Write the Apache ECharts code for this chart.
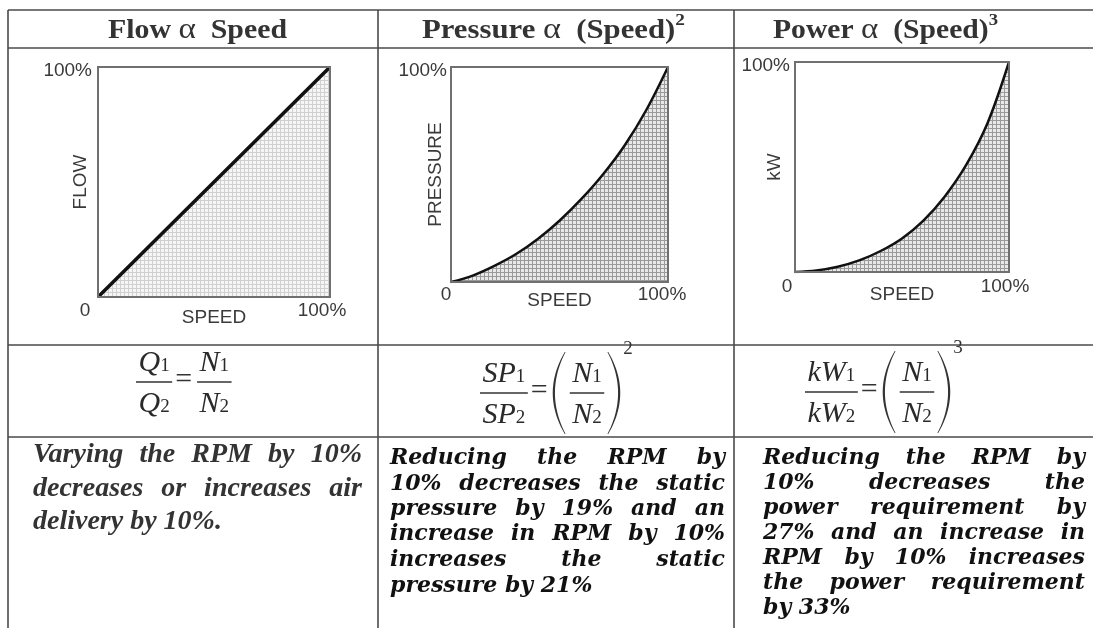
<!DOCTYPE html>
<html><head><meta charset="utf-8">
<script src="https://cdn.jsdelivr.net/npm/echarts@6/dist/echarts.min.js"></script>
<style>html,body{margin:0;padding:0;background:#fff}#c{width:1093px;height:628px}</style>
</head><body><div id="c"></div>
<script>
// ---------------- data ----------------
const speed    = [0, 10, 20, 30, 40, 50, 60, 70, 80, 90, 100];
const flow     = [0, 10, 20, 30, 40, 50, 60, 70, 80, 90, 100];
const pressure = [0, 3, 7.5, 13, 20, 28.5, 38.5, 50, 63.5, 80, 100];
const power    = [0, 0.7, 2.5, 5.5, 10, 16, 24.5, 36, 51, 71, 100];
const yNames = ['FLOW', 'PRESSURE', 'kW'];
const xName = 'SPEED';
const tickMin = '0', tickMax = '100%';
const col1Text = ['Varying the RPM by 10%', 'decreases or increases air', 'delivery by 10%.'];
const col2Text = ['Reducing the RPM by', '10% decreases the static', 'pressure by 19% and an', 'increase in RPM by 10%', 'increases the static', 'pressure by 21%'];
const col3Text = ['Reducing the RPM by', '10% decreases the', 'power requirement by', '27% and an increase in', 'RPM by 10% increases', 'the power requirement', 'by 33%'];

// ---------------- helpers ----------------
const mctx = document.createElement('canvas').getContext('2d');
function tw(s, font) { mctx.font = font; return mctx.measureText(s).width; }
function fsize(font) { return parseFloat(font.match(/(\d+(\.\d+)?)px/)[1]); }
function T(x, baseline, s, font, fill, align) {
  const sz = fsize(font);
  return { type: 'text', x: x, y: baseline - 0.3 * sz, silent: true,
    style: { text: s, font: font, fill: fill || '#111', align: align || 'left', verticalAlign: 'middle' } };
}
function runs(x, baseline, parts, fill) {
  let cx = x; const els = [];
  parts.forEach(p => { els.push(T(cx, baseline + (p[2] || 0), p[0], p[1], fill)); cx += tw(p[0], p[1]); });
  return { els, w: cx - x };
}
function runsWidth(parts) { return parts.reduce((a, p) => a + tw(p[0], p[1]), 0); }
function pat(bg, line, size) {
  const c = document.createElement('canvas'); c.width = c.height = size;
  const g = c.getContext('2d'); g.fillStyle = bg; g.fillRect(0, 0, size, size);
  g.fillStyle = line; g.fillRect(0, 0, 1, size); g.fillRect(0, 0, size, 1);
  return { image: c, repeat: 'repeat' };
}

const G = [];
// ---------------- table lines ----------------
const LC = '#4a4a4a';
function L(x1, y1, x2, y2, w) { G.push({ type: 'line', silent: true, shape: { x1, y1, x2, y2 }, style: { stroke: LC, lineWidth: w || 1.6 } }); }
[10, 48, 345, 437].forEach(y => L(8, y, 1093, y));
[8, 378, 734].forEach(x => L(x, 10, x, 628));

// ---------------- headers ----------------
const HB = 'bold 27px "Liberation Serif"', HA = '30px "Liberation Serif"', HS = 'bold 17px "Liberation Serif"';
const headers = [
  { parts: [['Flow ', HB], ['\u03b1', HA], ['  Speed', HB]], cx: 197.5, w: 179 },
  { parts: [['Pressure ', HB], ['\u03b1', HA], ['  (Speed)', HB], ['2', HS, -14]], cx: 553.5, w: 263 },
  { parts: [['Power ', HB], ['\u03b1', HA], ['  (Speed)', HB], ['3', HS, -14]], cx: 885.5, w: 225 }
];
headers.forEach(h => {
  const nw = runsWidth(h.parts);
  const r = runs(-nw / 2, 39.5, h.parts, '#333');
  G.push({ type: 'group', x: h.cx, y: 0, scaleX: h.w / nw, children: r.els });
});

// ---------------- formulas ----------------
const FI = 'italic 30px "Liberation Serif"', FR = '19px "Liberation Serif"', FE = '30px "Liberation Serif"';
function frac(x, bar, num, den) {
  const wn = runsWidth(num), wd = runsWidth(den);
  const w = Math.max(wn, wd) + 5, cx = x + w / 2;
  const els = runs(cx - wn / 2, bar - 10, num, '#2a2a2a').els.concat(runs(cx - wd / 2, bar + 31, den, '#2a2a2a').els);
  els.push({ type: 'line', silent: true, shape: { x1: x, y1: bar, x2: x + w, y2: bar }, style: { stroke: '#333', lineWidth: 1.4 } });
  return { els, w };
}
function paren(x, bar, open) {
  const h = 41, bw = 12, pts = [], N = 24;
  const yT = bar - h, yB = bar + h;
  const endX = open ? x + bw : x, sgn = open ? -1 : 1;
  const q = (p0, c, p2, t) => (1 - t) * (1 - t) * p0 + 2 * (1 - t) * t * c + t * t * p2;
  const outerC = endX + sgn * 2 * bw, innerEnd = endX - sgn * 0.8, innerC = 2 * (endX + sgn * (bw - 2.2)) - innerEnd;
  for (let i = 0; i <= N; i++) { const t = i / N; pts.push([q(endX, outerC, endX, t), q(yT, bar, yB, t)]); }
  for (let i = N; i >= 0; i--) { const t = i / N; pts.push([q(innerEnd, innerC, innerEnd, t), q(yT, bar, yB, t)]); }
  return { els: [{ type: 'polygon', silent: true, shape: { points: pts }, style: { fill: '#333' } }], w: bw + 1 };
}
function formula(x, bar, items) {
  items.forEach(it => {
    let r;
    if (it.t === 'frac') r = frac(x, bar, it.num, it.den);
    else if (it.t === 'eq') r = { els: [T(x, bar + 7.5, '=', FE, '#333')], w: tw('=', FE) };
    else if (it.t === 'paren') r = paren(x, bar, it.open);
    else if (it.t === 'sup') r = { els: [T(x, bar - 38, it.s, FR, '#333')], w: tw(it.s, FR) };
    else r = { els: [], w: 0 };
    r.els.forEach(e => G.push(e));
    x += r.w + (it.gap || 0);
  });
}
const sub = (a, b) => [[a, FI], [b, FR]];
formula(136, 382, [
  { t: 'frac', num: sub('Q', '1'), den: sub('Q', '2'), gap: 3 },
  { t: 'eq', gap: 5 },
  { t: 'frac', num: sub('N', '1'), den: sub('N', '2') }
]);
formula(480, 393, [
  { t: 'frac', num: sub('SP', '1'), den: sub('SP', '2'), gap: 3 },
  { t: 'eq', gap: 5 },
  { t: 'paren', open: true, gap: 4 },
  { t: 'frac', num: sub('N', '1'), den: sub('N', '2'), gap: 4 },
  { t: 'paren', open: false, gap: 2 },
  { t: 'sup', s: '2' }
]);
formula(805, 392, [
  { t: 'frac', num: sub('kW', '1'), den: sub('kW', '2'), gap: 3 },
  { t: 'eq', gap: 5 },
  { t: 'paren', open: true, gap: 4 },
  { t: 'frac', num: sub('N', '1'), den: sub('N', '2'), gap: 4 },
  { t: 'paren', open: false, gap: 2 },
  { t: 'sup', s: '3' }
]);

// ---------------- justified paragraphs ----------------
function para(lines, x0, x1, baselines, font, fill) {
  lines.forEach((ln, i) => {
    if (i === lines.length - 1) { G.push(T(x0, baselines[i], ln, font, fill)); return; }
    const words = ln.split(' ');
    const ws = words.map(w => tw(w, font));
    const gap = (x1 - x0 - ws.reduce((a, b) => a + b, 0)) / (words.length - 1);
    let x = x0;
    words.forEach((w, j) => { G.push(T(x, baselines[i], w, font, fill)); x += ws[j] + gap; });
  });
}
para(col1Text, 33, 362, [463, 497, 530], 'italic bold 28px "Liberation Serif"', '#333');
para(col2Text, 390, 725, [465, 491, 516, 541, 567, 593], 'italic bold 22px "DejaVu Serif"', '#111');
para(col3Text, 763, 1085, [465, 490, 515, 540, 565, 590, 615], 'italic bold 22px "DejaVu Serif"', '#111');

// ---------------- charts ----------------
const boxes = [
  { left: 98, top: 67, width: 232, height: 230, p0: 26, p1: 16, lm: 4, ng: 11, ym: 6, yng: 8, lw: 3.5 },
  { left: 451, top: 67, width: 217, height: 215, p0: 10, p1: 12, lm: 3, ng: 9, ym: 4, yng: 6, lw: 2.5 },
  { left: 795, top: 62, width: 214, height: 210, p0: 16, p1: 8, lm: 5, ng: 13, ym: 5, yng: 11, lw: 2.5 }
];
const seriesVals = [flow, pressure, power];
const fills = [pat('#f6f6f6', '#d0d0d0', 4), pat('#e8e8e8', '#9a9a9a', 4), pat('#e8e8e8', '#9a9a9a', 4)];
const AF = '"Liberation Sans", Arial, sans-serif', AC = '#3a3a3a', AS = 19;

const option = {
  animation: false,
  backgroundColor: '#fff',
  grid: boxes.map(b => ({ left: b.left, top: b.top, width: b.width, height: b.height, show: true,
    borderColor: '#707070', borderWidth: 2, backgroundColor: 'transparent', z: 10, containLabel: false, outerBoundsMode: 'none' })),
  xAxis: boxes.map((b, i) => ({
    type: 'value', gridIndex: i, min: 0, max: 100, interval: 100,
    axisLine: { show: false }, axisTick: { show: false }, splitLine: { show: false },
    axisLabel: { margin: b.lm, showMinLabel: true, showMaxLabel: true,
      formatter: v => v === 0 ? '{a|' + tickMin + '}' : '{b|' + tickMax + '}',
      rich: { a: { fontSize: AS, fontFamily: AF, color: AC, padding: [0, b.p0, 0, 0] },
              b: { fontSize: AS, fontFamily: AF, color: AC, padding: [0, b.p1, 0, 0] } } },
    name: xName, nameLocation: 'middle', nameGap: b.ng, nameMoveOverlap: false,
    nameTextStyle: { fontSize: AS, fontFamily: AF, color: AC, verticalAlign: 'top' }
  })),
  yAxis: boxes.map((b, i) => ({
    type: 'value', gridIndex: i, min: 0, max: 100, interval: 100,
    axisLine: { show: false }, axisTick: { show: false }, splitLine: { show: false },
    axisLabel: { margin: b.ym, showMinLabel: true, showMaxLabel: true,
      formatter: v => v === 100 ? '{t|' + tickMax + '}' : '',
      rich: { t: { fontSize: AS, fontFamily: AF, color: AC, padding: [8, 0, 0, 0] } } },
    name: yNames[i], nameLocation: 'middle', nameGap: b.yng, nameRotate: 90, nameMoveOverlap: false,
    nameTextStyle: { fontSize: AS, fontFamily: AF, color: AC }
  })),
  series: boxes.map((b, i) => ({
    type: 'line', xAxisIndex: i, yAxisIndex: i, z: 2,
    data: speed.map((s, k) => [s, seriesVals[i][k]]),
    smooth: i === 0 ? false : 0.35, showSymbol: false, symbol: 'none',
    lineStyle: { color: '#111', width: b.lw },
    areaStyle: { color: fills[i], opacity: 1 }
  })),
  graphic: { elements: G }
};
echarts.init(document.getElementById('c'), null, { renderer: 'canvas' }).setOption(option);
</script></body></html>
